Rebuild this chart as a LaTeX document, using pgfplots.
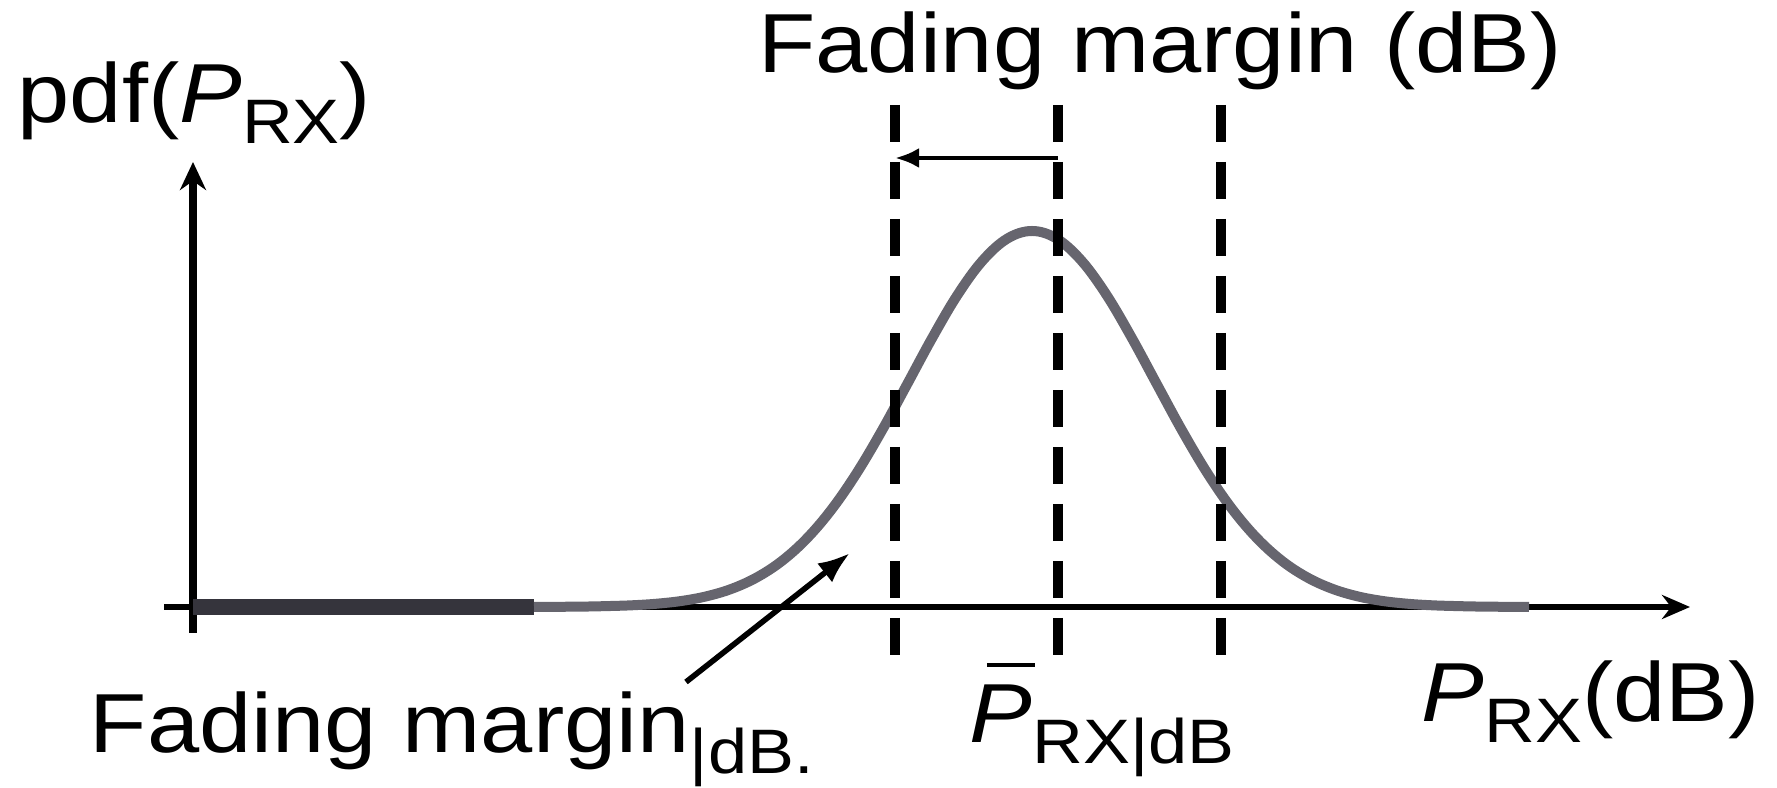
\documentclass[border=0pt]{standalone}
\usepackage{pgfplots}
\pgfplotsset{compat=1.18}
\usepackage{fontspec}
\setmainfont{Liberation Sans}[FakeStretch=1.12]
\usetikzlibrary{arrows.meta}

\definecolor{pdfgray}{RGB}{102,101,110}
\definecolor{pdfdark}{RGB}{53,52,60}

\newcommand\lbl{\fontsize{20.95}{24}\selectfont}
\newcommand\sub[1]{\raisebox{-5.2pt}{\fontsize{15.7}{18}\selectfont #1}}

% log-normal received power: pdf in dB is a bell curve
\pgfplotstableread{
x     y
3.41  0
3.89  0.004
4.14  0.009
4.39  0.017
4.64  0.033
4.89  0.061
5.14  0.108
5.39  0.183
5.64  0.297
5.89  0.461
6.14  0.687
6.39  0.981
6.64  1.344
6.89  1.766
7.14  2.225
7.39  2.687
7.64  3.113
7.89  3.457
8.14  3.682
8.39  3.760
8.64  3.682
8.89  3.457
9.14  3.113
9.39  2.687
9.64  2.225
9.89  1.766
10.14 1.344
10.39 0.981
10.64 0.687
10.89 0.461
11.14 0.297
11.39 0.183
11.64 0.108
11.89 0.061
12.14 0.033
12.39 0.017
12.64 0.009
12.89 0.004
13.36 0
}\pdfcurve

\begin{document}
\begin{tikzpicture}
\begin{axis}[
  x=25pt, y=25pt,
  xmin=-1.93, xmax=15.84,
  ymin=-1.77, ymax=6.07,
  hide axis, clip=false,
]
% frame of the picture
\path (rel axis cs:0,0) rectangle (rel axis cs:1,1);

% axes
\addplot[black, line width=1.5pt, -{Stealth[length=7pt,width=6pt]}]
  coordinates {(-0.29,0) (14.97,0)};
\addplot[black, line width=1.9pt, -{Stealth[length=7pt,width=6.5pt]}]
  coordinates {(0,-0.26) (0,4.45)};

% pdf
\addplot[pdfdark, line width=4pt] coordinates {(0,0) (3.41,0)};
\addplot[pdfgray, line width=2.5pt, smooth, tension=0.6] table[x=x, y=y] {\pdfcurve};

% threshold, mean and upper level
\addplot[black, line width=2.7pt, dash pattern=on 9.25pt off 5pt]
  coordinates {(7.02,5.02) (7.02,-0.48)};
\addplot[black, line width=2.7pt, dash pattern=on 9.25pt off 5pt]
  coordinates {(8.65,5.02) (8.65,-0.48)};
\addplot[black, line width=2.7pt, dash pattern=on 9.25pt off 5pt]
  coordinates {(10.28,5.02) (10.28,-0.48)};

% margin arrow
\addplot[black, line width=1.2pt, -{Latex[length=6pt,width=5pt]}]
  coordinates {(8.65,4.49) (7.02,4.49)};
% pointer to the outage tail
\addplot[black, line width=1.4pt, -{Latex[length=8pt,width=6pt]}]
  coordinates {(4.93,-0.75) (6.57,0.54)};

% labels
\node[anchor=base, inner sep=0] at (axis cs:9.67,5.34) {\lbl Fading margin (dB)};
\node[anchor=base west, inner sep=0] at (axis cs:-1.76,4.84) {\lbl pdf(\textit{P}\sub{RX})};
\node[anchor=base west, inner sep=0] at (axis cs:12.28,-1.15) {\lbl\textit{P}\sub{RX}(dB)};
\node[anchor=base west, inner sep=0] at (axis cs:7.76,-1.36)
  {\lbl\rlap{\hspace{4.25pt}\rule[19pt]{12pt}{1pt}}\textit{P}\sub{RX|dB}};
\node[anchor=base west, inner sep=0] at (axis cs:-1.04,-1.46) {\lbl Fading margin\sub{|dB.}};
\end{axis}
\end{tikzpicture}
\end{document}
